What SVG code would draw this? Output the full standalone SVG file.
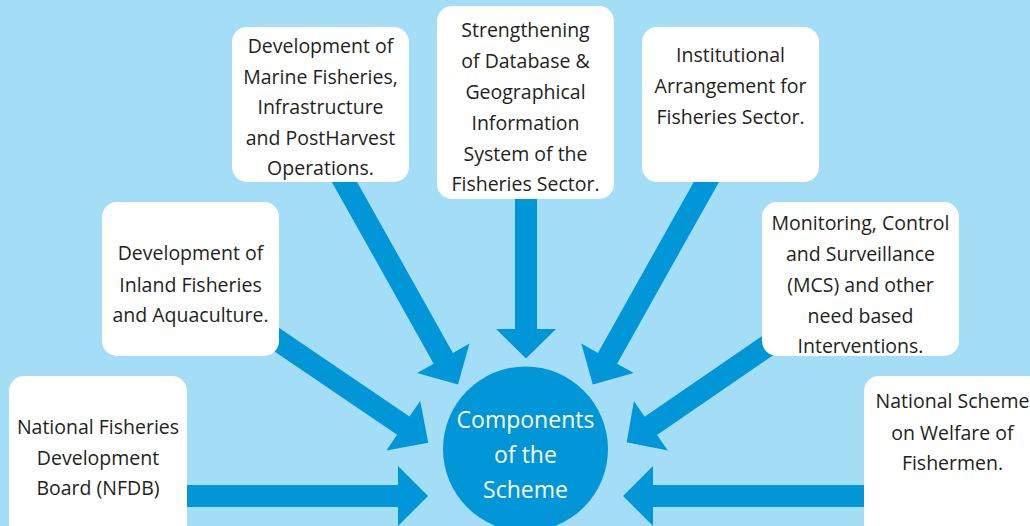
<svg xmlns="http://www.w3.org/2000/svg" width="1030" height="526" viewBox="0 0 1030 526">
<style>
.box{fill:#ffffff}
.arrow{fill:#0096d8}
.t{font-family:"Open Sans","Noto Sans",sans-serif;font-size:19.5px;fill:#231f20;text-anchor:middle}
.c{font-family:"Open Sans","Noto Sans",sans-serif;font-size:23px;fill:#ffffff;text-anchor:middle}
</style>
<rect x="0" y="0" width="1030" height="526" fill="#a3ddf6"/>
<g id="connectors">
<polygon class="arrow" points="180,485 398,485 398,466 428,496 398,526 398,507 180,507"/>
<polygon class="arrow" points="870,485 653,485 653,466 623,496 653,526 653,507 870,507"/>
<polygon class="arrow" points="256.5,339.3 397.1,434.8 386.4,450.5 428.3,442.7 420.2,400.9 409.5,416.6 268.9,321.1"/>
<polygon class="arrow" points="784.8,320.6 644.6,416.7 633.9,401.1 626.7,442.3 667.8,450.6 657,434.9 797.2,338.8"/>
<polygon class="arrow" points="330,178.7 433.7,363.7 417.1,373 458,384.5 469.5,343.6 452.9,352.9 349.2,167.9"/>
<polygon class="arrow" points="720.8,178.7 617.1,363.7 633.7,373 592.8,384.5 581.3,343.6 597.9,352.9 701.6,167.9"/>
<polygon class="arrow" points="515,190 515,329 496,329 526,358.5 556,329 537,329 537,190"/>
</g>
<g id="center">
<circle cx="525.5" cy="449" r="82.5" fill="#0096d8"/>
<text class="c" x="525.5" y="428">Components</text>
<text class="c" x="525.5" y="463">of the</text>
<text class="c" x="525.5" y="498">Scheme</text>
</g>
<g id="nfdb">
<rect class="box" x="9" y="376" width="178" height="165" rx="15"/>
<text class="t" x="98" y="434">National Fisheries</text>
<text class="t" x="98" y="464.5">Development</text>
<text class="t" x="98" y="495">Board (NFDB)</text>
</g>
<g id="inland">
<rect class="box" x="102" y="202" width="177" height="154" rx="15"/>
<text class="t" x="190.5" y="260">Development of</text>
<text class="t" x="190.5" y="291.5">Inland Fisheries</text>
<text class="t" x="190.5" y="322">and Aquaculture.</text>
</g>
<g id="marine">
<rect class="box" x="232" y="27" width="177" height="155" rx="15"/>
<text class="t" x="320.5" y="53">Development of</text>
<text class="t" x="320.5" y="83.5">Marine Fisheries,</text>
<text class="t" x="320.5" y="114">Infrastructure</text>
<text class="t" x="320.5" y="144.5">and PostHarvest</text>
<text class="t" x="320.5" y="175">Operations.</text>
</g>
<g id="database">
<rect class="box" x="437" y="6" width="177" height="193" rx="15"/>
<text class="t" x="525.5" y="37">Strengthening</text>
<text class="t" x="525.5" y="68">of Database &amp;</text>
<text class="t" x="525.5" y="99">Geographical</text>
<text class="t" x="525.5" y="130">Information</text>
<text class="t" x="525.5" y="160.5">System of the</text>
<text class="t" x="525.5" y="191">Fisheries Sector.</text>
</g>
<g id="institutional">
<rect class="box" x="642" y="27" width="177" height="155" rx="15"/>
<text class="t" x="730.5" y="62">Institutional</text>
<text class="t" x="730.5" y="93">Arrangement for</text>
<text class="t" x="730.5" y="124">Fisheries Sector.</text>
</g>
<g id="mcs">
<rect class="box" x="762" y="202" width="197" height="154" rx="15"/>
<text class="t" x="860.5" y="230">Monitoring, Control</text>
<text class="t" x="860.5" y="261">and Surveillance</text>
<text class="t" x="860.5" y="292">(MCS) and other</text>
<text class="t" x="860.5" y="323">need based</text>
<text class="t" x="860.5" y="353">Interventions.</text>
</g>
<g id="welfare">
<rect class="box" x="864" y="376" width="190" height="165" rx="15"/>
<text class="t" x="952.5" y="408">National Scheme</text>
<text class="t" x="952.5" y="439.5">on Welfare of</text>
<text class="t" x="952.5" y="470">Fishermen.</text>
</g>
</svg>
